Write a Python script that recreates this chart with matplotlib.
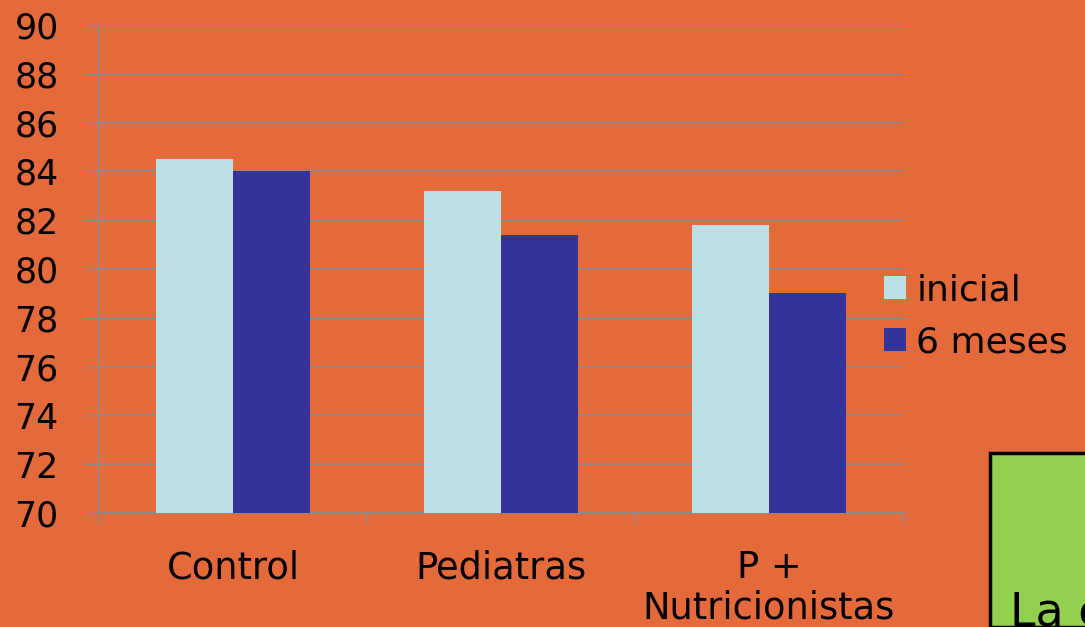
import numpy as np
import matplotlib.pyplot as plt
from matplotlib.patches import Rectangle

# datos del gráfico
categorias = ['Control', 'Pediatras', 'P +\nNutricionistas']
series = ['inicial', '6 meses']
valores_inicial = [84.5, 83.2, 81.8]
valores_6meses = [84.0, 81.4, 79.0]
y_ticks = list(range(70, 91, 2))

fondo = '#E4693B'
col_inicial = '#BCE0E3'
col_6meses = '#333399'
gris = '#8C8C8C'

plt.rcParams['font.family'] = ['DejaVu Sans']

fig = plt.figure(figsize=(10.85, 6.27), dpi=100)
fig.patch.set_facecolor(fondo)
ax = fig.add_axes([99 / 1085, 114 / 627, 804 / 1085, 488 / 627])
ax.set_facecolor(fondo)

x = np.arange(len(categorias))
ancho = 2 / 7  # separación del 150%
ax.bar(x - ancho / 2, np.array(valores_inicial) - 70, ancho, bottom=70,
       color=col_inicial, label=series[0], zorder=3)
ax.bar(x + ancho / 2, np.array(valores_6meses) - 70, ancho, bottom=70,
       color=col_6meses, label=series[1], zorder=3)

ax.set_xlim(-0.5, len(categorias) - 0.5)
ax.set_ylim(70, 90)
ax.set_yticks(y_ticks)
ax.set_yticklabels([str(v) for v in y_ticks], fontsize=25)
ax.yaxis.grid(True, color=gris, linewidth=1.2, zorder=0)
ax.tick_params(axis='y', direction='out', length=10, width=1, color=gris, pad=19)

# marcas entre categorías y etiquetas centradas
ax.set_xticks(np.arange(len(categorias) + 1) - 0.5)
ax.set_xticklabels([])
ax.tick_params(axis='x', which='major', direction='out', length=8, width=1, color=gris)
ax.set_xticks(x, minor=True)
ax.set_xticklabels(categorias, minor=True, fontsize=26.5, linespacing=1.12)
ax.tick_params(axis='x', which='minor', length=0, pad=26)

for lado in ['top', 'right']:
    ax.spines[lado].set_visible(False)
for lado in ['left', 'bottom']:
    ax.spines[lado].set_color(gris)
    ax.spines[lado].set_linewidth(1.2)

fig.legend(loc='upper left', bbox_to_anchor=(884 / 1085, (627 - 273) / 627),
           frameon=False, fontsize=26, handlelength=0.6, handleheight=0.6,
           handletextpad=0.3, labelspacing=0.5, borderpad=0, borderaxespad=0)

# recuadro verde de la esquina
caja = Rectangle((990 / 1085, 0), 0.2, (627 - 453) / 627, transform=fig.transFigure,
                 facecolor='#92D050', edgecolor='black', linewidth=2.5, zorder=1)
fig.patches.append(caja)
fig.text(1010 / 1085, 2 / 627, 'La e', fontsize=33, ha='left', va='baseline')

fig.savefig('out.png', dpi=100, facecolor=fondo)
